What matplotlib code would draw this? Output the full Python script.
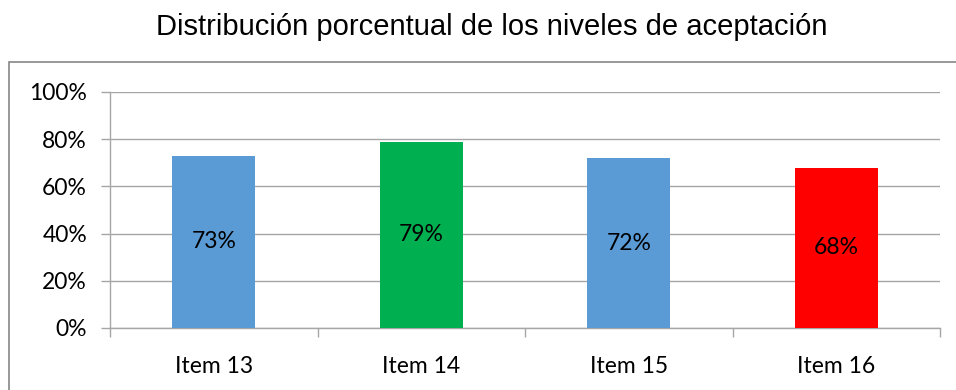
import matplotlib.pyplot as plt
from matplotlib.patches import Rectangle
from matplotlib.ticker import FixedLocator

# Datos del gráfico
items = ["Item 13", "Item 14", "Item 15", "Item 16"]
valores = [0.73, 0.79, 0.72, 0.68]
colores = ["#5b9bd5", "#00b050", "#5b9bd5", "#ff0000"]
yticks = [0, 0.2, 0.4, 0.6, 0.8, 1.0]
ytick_labels = ["0%", "20%", "40%", "60%", "80%", "100%"]

gris = "#a6a6a6"

fig = plt.figure(figsize=(9.56, 3.9), dpi=100)
ax = fig.add_axes([110 / 956, 1 - 328 / 390, 830 / 956, 236 / 390])

x = range(len(items))
ax.bar(x, valores, width=0.4, color=colores, zorder=3)
for i, v in enumerate(valores):
    ax.text(i, v / 2, f"{round(v * 100)}%", ha="center", va="center",
            fontsize=16.5, family="Lato", color="black", zorder=4)

ax.set_xlim(-0.5, len(items) - 0.5)
ax.set_ylim(0, 1)
ax.set_yticks(yticks)
ax.set_yticklabels(ytick_labels, family="Lato", fontsize=16.5)
ax.set_xticks(list(x))
ax.set_xticklabels(items, family="Lato", fontsize=16.5)
ax.xaxis.set_minor_locator(FixedLocator([-0.5, 0.5, 1.5, 2.5, 3.5]))
ax.tick_params(axis="x", which="major", length=0, pad=20.5)
ax.tick_params(axis="x", which="minor", length=6.5, color=gris, width=1)
ax.tick_params(axis="y", length=6.5, color=gris, width=1, pad=10)
ax.grid(axis="y", color=gris, linewidth=1, zorder=0)

for lado in ["top", "right"]:
    ax.spines[lado].set_visible(False)
for lado in ["left", "bottom"]:
    ax.spines[lado].set_color(gris)
    ax.spines[lado].set_linewidth(1)

# Marco exterior del gráfico
marco = Rectangle((9 / 956, -0.05), 1.2, 1 - 62 / 390 + 0.05, transform=fig.transFigure,
                  fill=False, edgecolor="#868686", linewidth=1.2)
fig.patches.append(marco)

fig.text(492 / 956, 1 - 27 / 390, "Distribución porcentual de los niveles de aceptación",
         ha="center", va="center", fontsize=21, family="Liberation Sans")

fig.savefig("out.png", dpi=100)
